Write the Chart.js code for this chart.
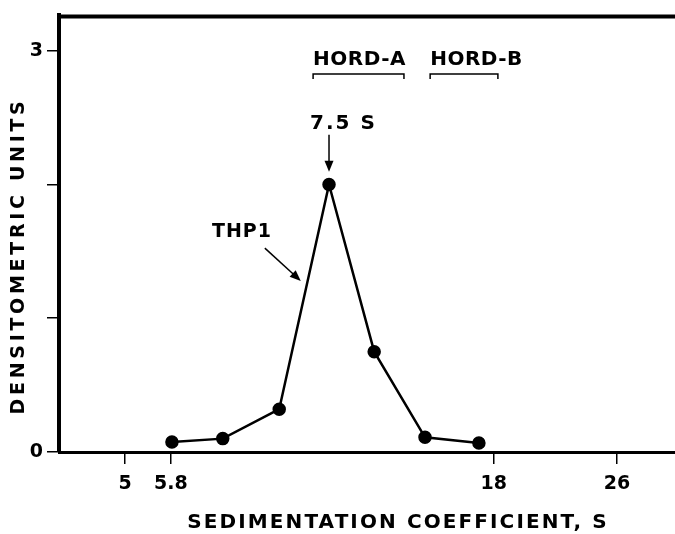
<!DOCTYPE html>
<html>
<head>
<meta charset="utf-8">
<script src="https://cdn.jsdelivr.net/npm/chart.js@4/dist/chart.umd.min.js"></script>
<style>
  html, body { margin: 0; padding: 0; background: #fff; }
  #wrap { width: 675px; height: 534px; }
</style>
</head>
<body>
<div id="wrap"><canvas id="chart"></canvas></div>
<script>
// データ (x = 分画位置, y = densitometric units)
const FRACTION_POS = [2.20, 3.19, 4.29, 5.26, 6.14, 7.13, 8.18];
const DENSITY = [0.074, 0.10, 0.32, 2.0, 0.75, 0.11, 0.067];

// 軸目盛
const X_TICK_POS = [1.29, 2.18, 8.47, 10.87];
const X_TICK_LABELS = ['5', '5.8', '18', '26'];
const Y_TICK_POS = [0, 1, 2, 3];
const Y_TICK_LABELS = ['0', '', '', '3'];

// 注釈 (データ座標)
const BRACKETS = [
    { label: 'HORD-A', from: 4.95, to: 6.72, y: 2.825 },
    { label: 'HORD-B', from: 7.23, to: 8.55, y: 2.825 }
];
const PEAK_LABEL = { text: '7.5 S', x: 4.89, y: 2.416, arrowX: 5.26, arrowFrom: 2.372, arrowTo: 2.095 };
const CURVE_LABEL = { text: 'THP1', x: 2.98, y: 1.606, from: [4.01, 1.524], to: [4.71, 1.279] };

const FONT = "'DejaVu Sans', sans-serif";

function arrow(ctx, x1, y1, x2, y2) {
    const a = Math.atan2(y2 - y1, x2 - x1);
    const len = 11, w = 4.5;
    ctx.beginPath();
    ctx.moveTo(x1, y1);
    ctx.lineTo(x2 - Math.cos(a) * len * 0.8, y2 - Math.sin(a) * len * 0.8);
    ctx.stroke();
    ctx.beginPath();
    ctx.moveTo(x2, y2);
    ctx.lineTo(x2 - Math.cos(a) * len - Math.sin(a) * w, y2 - Math.sin(a) * len + Math.cos(a) * w);
    ctx.lineTo(x2 - Math.cos(a) * len + Math.sin(a) * w, y2 - Math.sin(a) * len - Math.cos(a) * w);
    ctx.closePath();
    ctx.fill();
}

const annotations = {
    id: 'annotations',
    afterDatasetsDraw(chart) {
        const { ctx, chartArea, scales: { x, y } } = chart;
        ctx.save();
        ctx.strokeStyle = '#000';
        ctx.fillStyle = '#000';

        // 上枠
        ctx.lineWidth = 4;
        ctx.beginPath();
        ctx.moveTo(chartArea.left - 2, chartArea.top + 1);
        ctx.lineTo(chartArea.right, chartArea.top + 1);
        ctx.stroke();

        // HORD ブラケット
        ctx.lineWidth = 1.5;
        ctx.font = 'bold 20px ' + FONT;
        ctx.textBaseline = 'alphabetic';
        ctx.textAlign = 'left';
        ctx.letterSpacing = '0.5px';
        BRACKETS.forEach(b => {
            const x1 = x.getPixelForValue(b.from), x2 = x.getPixelForValue(b.to);
            const py = y.getPixelForValue(b.y);
            ctx.beginPath();
            ctx.moveTo(x1, py + 5);
            ctx.lineTo(x1, py);
            ctx.lineTo(x2, py);
            ctx.lineTo(x2, py + 5);
            ctx.stroke();
            ctx.fillText(b.label, x1, py - 9);
        });

        // 7.5 S
        ctx.letterSpacing = '2px';
        ctx.fillText(PEAK_LABEL.text, x.getPixelForValue(PEAK_LABEL.x), y.getPixelForValue(PEAK_LABEL.y));
        ctx.letterSpacing = '0px';
        ctx.lineWidth = 1.5;
        const ax = x.getPixelForValue(PEAK_LABEL.arrowX);
        arrow(ctx, ax, y.getPixelForValue(PEAK_LABEL.arrowFrom), ax, y.getPixelForValue(PEAK_LABEL.arrowTo));

        // THP1
        ctx.font = 'bold 19px ' + FONT;
        ctx.letterSpacing = '1px';
        ctx.fillText(CURVE_LABEL.text, x.getPixelForValue(CURVE_LABEL.x), y.getPixelForValue(CURVE_LABEL.y));
        ctx.letterSpacing = '0px';
        arrow(ctx,
            x.getPixelForValue(CURVE_LABEL.from[0]), y.getPixelForValue(CURVE_LABEL.from[1]),
            x.getPixelForValue(CURVE_LABEL.to[0]), y.getPixelForValue(CURVE_LABEL.to[1]));

        // 軸タイトル
        ctx.textAlign = 'center';
        ctx.textBaseline = 'middle';
        ctx.font = 'bold 20px ' + FONT;
        ctx.letterSpacing = '2.1px';
        ctx.fillText('SEDIMENTATION COEFFICIENT, S', 398, 523);
        ctx.translate(19, 256);
        ctx.rotate(-Math.PI / 2);
        ctx.font = 'bold 19px ' + FONT;
        ctx.letterSpacing = '3.7px';
        ctx.fillText('DENSITOMETRIC UNITS', 0, 0);
        ctx.restore();
    }
};

const axisGrid = {
    display: true,
    drawOnChartArea: false,
    drawTicks: true,
    tickLength: 12,
    color: '#000',
    lineWidth: 1.5
};

new Chart(document.getElementById('chart').getContext('2d'), {
    type: 'line',
    data: {
        datasets: [{
            data: FRACTION_POS.map((v, i) => ({ x: v, y: DENSITY[i] })),
            borderColor: '#000',
            backgroundColor: '#000',
            borderWidth: 2.5,
            pointRadius: 5.5,
            pointBackgroundColor: '#000',
            tension: 0
        }]
    },
    options: {
        responsive: true,
        maintainAspectRatio: false,
        animation: false,
        layout: { autoPadding: false, padding: { top: 12, right: 0, left: 0, bottom: 0 } },
        plugins: { legend: { display: false }, tooltip: { enabled: false } },
        scales: {
            x: {
                type: 'linear',
                min: 0,
                max: 12,
                afterBuildTicks: s => { s.ticks = X_TICK_POS.map(v => ({ value: v })); },
                afterFit: s => { s.height = 82; },
                grid: axisGrid,
                border: { display: true, color: '#000', width: 3 },
                ticks: {
                    color: '#000',
                    font: { family: FONT, size: 19, weight: 'bold' },
                    padding: 9,
                    maxRotation: 0,
                    autoSkip: false,
                    callback: (v, i) => X_TICK_LABELS[i]
                }
            },
            y: {
                type: 'linear',
                min: 0,
                max: 3.264,
                afterBuildTicks: s => { s.ticks = Y_TICK_POS.map(v => ({ value: v })); },
                afterFit: s => { s.width = 59; },
                grid: axisGrid,
                border: { display: true, color: '#000', width: 4 },
                ticks: {
                    color: '#000',
                    font: { family: FONT, size: 19, weight: 'bold' },
                    padding: 4,
                    autoSkip: false,
                    callback: (v, i) => Y_TICK_LABELS[i]
                }
            }
        }
    },
    plugins: [annotations]
});
</script>
</body>
</html>
